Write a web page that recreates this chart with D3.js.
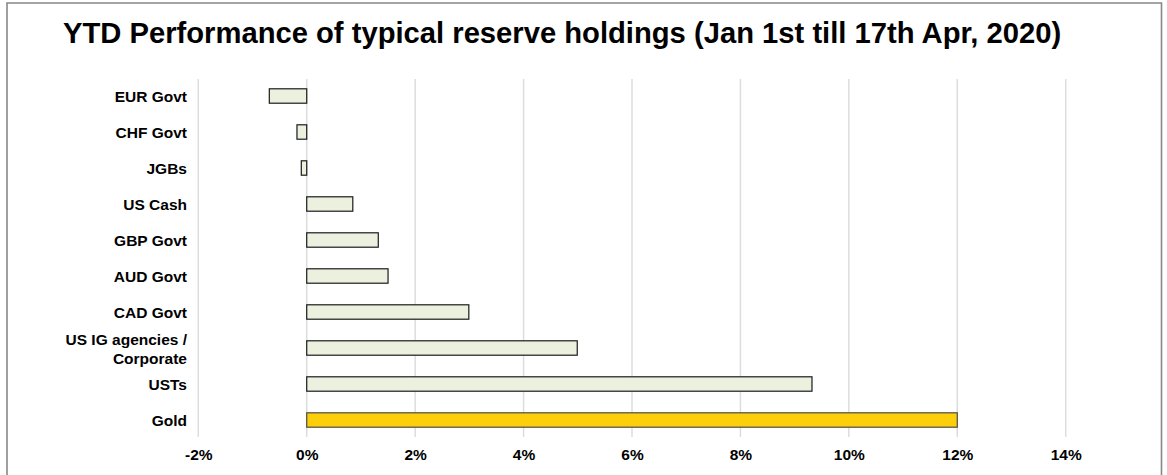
<!DOCTYPE html>
<html>
<head>
<meta charset="utf-8">
<script src="https://cdn.jsdelivr.net/npm/d3@7"></script>
<style>
  body { margin: 0; background: #fff; }
  text { font-family: "Liberation Sans", Arial, Helvetica, sans-serif; font-weight: bold; fill: #000; }
</style>
</head>
<body>
<div id="chart"></div>
<script>
var categories = ['EUR Govt', 'CHF Govt', 'JGBs', 'US Cash', 'GBP Govt', 'AUD Govt', 'CAD Govt', 'US IG agencies / Corporate', 'USTs', 'Gold'];
var values = [-0.69, -0.18, -0.10, 0.85, 1.32, 1.50, 2.99, 4.99, 9.32, 12.0];
var tickValues = [-2, 0, 2, 4, 6, 8, 10, 12, 14];

var width = 1167, height = 475;

var svg = d3.select('#chart').append('svg')
  .attr('width', width)
  .attr('height', height);

// frame
svg.append('path')
  .attr('d', 'M7,' + (height + 2) + 'V3H1161.5V' + (height + 2))
  .attr('fill', 'none')
  .attr('stroke', '#888')
  .attr('stroke-width', 1.6);

svg.append('text')
  .attr('x', 63)
  .attr('y', 43)
  .style('font-size', '29.2px')
  .text('YTD Performance of typical reserve holdings (Jan 1st till 17th Apr, 2020)');

var x = d3.scaleLinear().domain([-2, 14]).range([198.3, 1065.7]);
var y = d3.scaleBand().domain(categories).range([78, 438])
  .paddingInner(0.6).paddingOuter(0.3);

// gridlines
svg.append('g').selectAll('line')
  .data(tickValues)
  .enter().append('line')
  .attr('x1', function(d) { return x(d); })
  .attr('x2', function(d) { return x(d); })
  .attr('y1', 79)
  .attr('y2', 437)
  .attr('stroke', '#dcdcdc')
  .attr('stroke-width', 1.5);

// bars
svg.append('g').selectAll('rect')
  .data(values)
  .enter().append('rect')
  .attr('x', function(d) { return x(Math.min(0, d)); })
  .attr('y', function(d, i) { return y(categories[i]); })
  .attr('width', function(d) { return Math.abs(x(d) - x(0)); })
  .attr('height', y.bandwidth())
  .attr('fill', function(d, i) { return categories[i] === 'Gold' ? '#fccf0a' : '#ebf1de'; })
  .attr('stroke', function(d, i) { return categories[i] === 'Gold' ? '#4a4a4a' : '#1a1a1a'; })
  .attr('stroke-width', 1.2);

// category labels
var labels = svg.append('g').selectAll('text')
  .data(categories)
  .enter().append('text')
  .attr('text-anchor', 'end')
  .style('font-size', '15.5px')
  .attr('x', 187)
  .attr('y', function(d) { return y(d) + y.bandwidth() / 2 + 5.5; });

labels.each(function(d) {
  var t = d3.select(this);
  if (d === 'US IG agencies / Corporate') {
    t.append('tspan').attr('x', 187).attr('dy', -9).text('US IG agencies /');
    t.append('tspan').attr('x', 187).attr('dy', 19).text('Corporate');
  } else {
    t.text(d);
  }
});

// x axis tick labels
var xAxis = d3.axisBottom(x)
  .tickValues(tickValues)
  .tickSize(0)
  .tickPadding(0)
  .tickFormat(function(d) { return d + '%'; });

var ax = svg.append('g')
  .attr('transform', 'translate(0,449)')
  .call(xAxis);
ax.select('.domain').remove();
ax.selectAll('text')
  .style('font-size', '15.5px')
  .style('font-family', '"Liberation Sans", Arial, sans-serif')
  .style('font-weight', 'bold')
  .attr('fill', '#000');
</script>
</body>
</html>
